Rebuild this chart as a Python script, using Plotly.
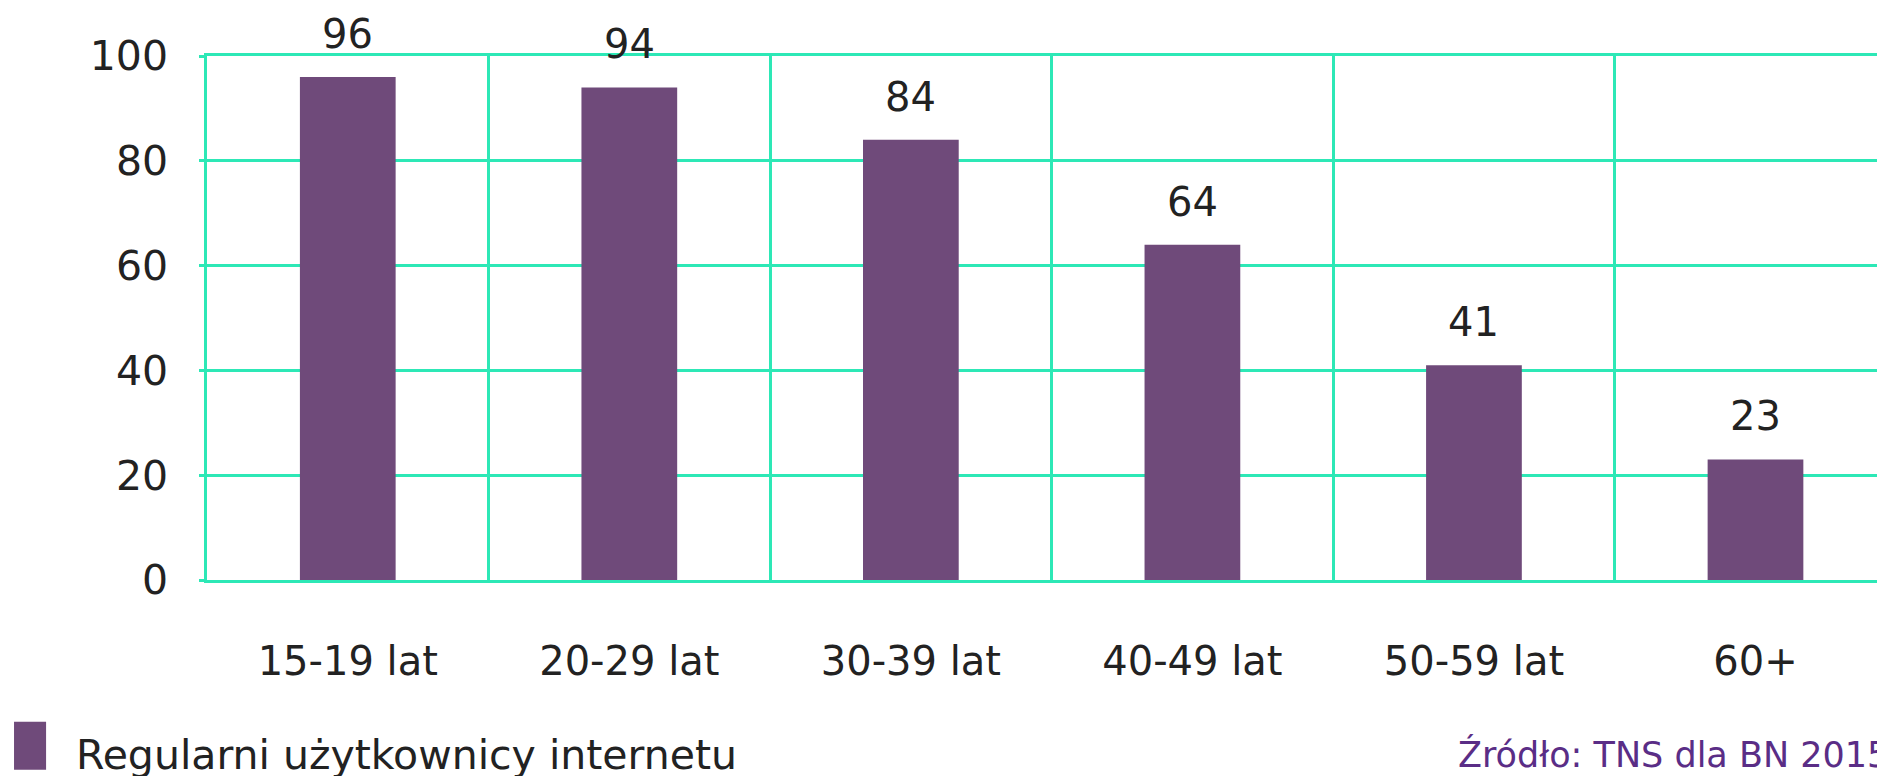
import plotly.graph_objects as go

categories = ["15-19 lat", "20-29 lat", "30-39 lat", "40-49 lat", "50-59 lat", "60+"]
values = [96, 94, 84, 64, 41, 23]
series_name = "Regularni użytkownicy internetu"
source_text = "Źródło: TNS dla BN 2015"
y_ticks = [0, 20, 40, 60, 80, 100]

BAR = "#6f4a7a"
GRID = "#2de8b6"
TXT = "#222222"
SRC = "#5a2d86"
FONT = "DejaVu Sans"

fig = go.Figure()
fig.add_trace(go.Bar(
    x=categories, y=values, width=0.34,
    marker=dict(color=BAR, line=dict(width=0)),
    name=series_name, showlegend=False, hoverinfo="x+y",
))

for c, v in zip(categories, values):
    fig.add_annotation(x=c, y=v, text=str(v), showarrow=False,
                       yanchor="middle", yshift=43,
                       font=dict(family=FONT, size=40, color=TXT))

# legend swatch + text
fig.add_shape(type="rect", xref="paper", yref="paper",
              x0=-0.115, x1=-0.0959, y0=-0.2706, y1=-0.3623,
              fillcolor=BAR, line=dict(width=0))
fig.add_annotation(xref="paper", yref="paper", x=-0.0795, y=-0.3337,
                   xanchor="left", yanchor="middle", showarrow=False,
                   text=series_name, font=dict(family=FONT, size=41, color=TXT))
fig.add_annotation(xref="paper", yref="paper", x=0.7445, y=-0.3337,
                   xanchor="left", yanchor="middle", showarrow=False,
                   text=source_text, font=dict(family=FONT, size=35, color=SRC))

fig.update_layout(
    width=1877, height=768,
    margin=dict(l=199, r=0, t=48, b=196),
    paper_bgcolor="white", plot_bgcolor="white",
    font=dict(family=FONT, size=40, color=TXT),
    bargap=0.66,
)
fig.update_xaxes(
    type="category", range=[-0.5, 5.46],
    tickson="boundaries", showgrid=True, gridcolor=GRID, gridwidth=2.5,
    showline=True, linecolor=GRID, linewidth=2.5, mirror=True,
    ticks="", ticklabelstandoff=44,
    tickfont=dict(family=FONT, size=40, color=TXT),
    fixedrange=True,
)
fig.update_yaxes(
    range=[0, 100], tickvals=y_ticks,
    showgrid=True, gridcolor=GRID, gridwidth=2.5,
    showline=True, linecolor=GRID, linewidth=2.5,
    zeroline=False,
    ticks="outside", ticklen=5, tickcolor=GRID, tickwidth=2.5,
    ticklabelstandoff=23,
    tickfont=dict(family=FONT, size=41, color=TXT),
    fixedrange=True,
)

fig.write_html("out.html")
